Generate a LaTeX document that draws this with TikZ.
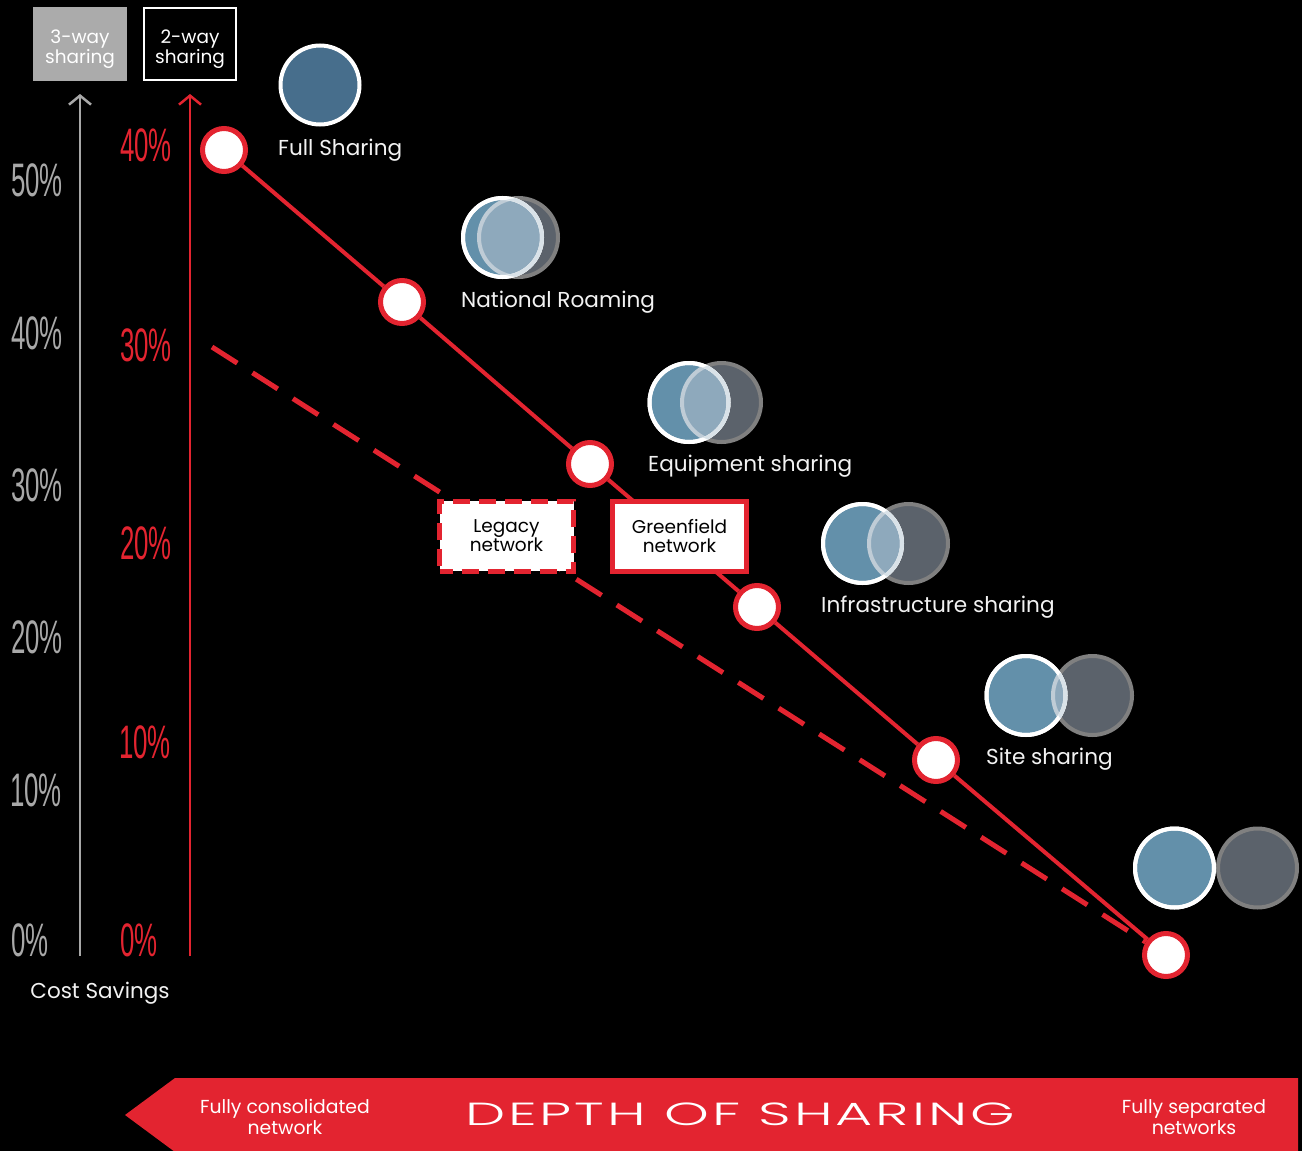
\documentclass[tikz,border=0pt]{standalone}
\usepackage{fontspec}
\setmainfont{Poppins}
\newfontfamily\condfont[FakeStretch=0.55]{Liberation Sans}
\newfontfamily\widefont[FakeStretch=1.78,LetterSpace=9]{Poppins Light}
\usetikzlibrary{arrows.meta}

\definecolor{brand}{HTML}{E32430}
\definecolor{axisgray}{HTML}{A8A8A8}
\definecolor{boxgray}{HTML}{ABABAB}
\definecolor{opblue}{HTML}{6390AA}
\definecolor{fullblue}{HTML}{476E8C}
\definecolor{opgray}{HTML}{5B626B}
\definecolor{ringgray}{HTML}{808080}
\definecolor{overlap}{HTML}{8EA9BC}
\definecolor{overlapring}{HTML}{BFCCD6}
\definecolor{overlapwhite}{HTML}{D9E2E8}
\definecolor{labelwhite}{HTML}{F2F2F2}

\pgfdeclarelayer{bg}
\pgfdeclarelayer{lines}
\pgfsetlayers{bg,lines,main}

\tikzset{
  stagedot/.style={circle, draw=brand, line width=5pt, fill=white, minimum size=43pt, inner sep=0pt},
  trendline/.style={draw=brand, line width=4pt},
  legacyline/.style={draw=brand, line width=5pt, dash pattern=on 30pt off 18pt},
  netbox/.style={draw=brand, line width=5pt, fill=white, minimum width=134pt, minimum height=70pt,
                 inner sep=0pt, align=center, text=black, font=\fontsize{18.5}{19}\selectfont},
  pctgray/.style={anchor=west, inner sep=0pt, text=axisgray, font=\condfont\fontsize{47}{47}\selectfont},
  pctred/.style={anchor=west, inner sep=0pt, text=brand, font=\condfont\fontsize{47}{47}\selectfont},
  stagelabel/.style={anchor=base west, inner sep=0pt, text=labelwhite, font=\fontsize{21.6}{21.6}\selectfont},
  opdisc/.style={circle, fill=opblue, draw=white, line width=4pt, minimum size=79pt, inner sep=0pt},
  peerdisc/.style={circle, fill=opgray, draw=ringgray, line width=4pt, minimum size=79pt, inner sep=0pt},
  axisline/.style={line width=2.5pt, -{Straight Barb[length=9pt,width=22pt,line width=2.5pt]}},
  sharebox/.style={minimum width=94pt, minimum height=74pt, inner sep=0pt},
  sharetext/.style={inner sep=0pt, align=center, font=\fontsize{18.5}{18}\selectfont},
  bannertext/.style={text=white, align=center, inner sep=0pt, font=\fontsize{18.8}{21}\selectfont}
}

% pair of operator discs: own network (blue) and partner network (gray)
\newcommand{\netpair}[4]{%
  \node[peerdisc] (#3b) at (#2) {};
  \node[opdisc] (#3a) at (#1) {};
  \begin{scope}
    \clip (#3a.center) circle (39.5pt);
    \fill[overlap] (#3b.center) circle (39.5pt);
    \draw[overlapring, line width=4pt] (#3b.center) circle (39.5pt);
  \end{scope}
  \draw[white, line width=4pt] (#3a.center) circle (39.5pt);
  \begin{scope}
    \clip (#3b.center) circle (39.5pt);
    \draw[overlapwhite, line width=4pt] (#3a.center) circle (39.5pt);
  \end{scope}
  #4
}

\begin{document}
\begin{tikzpicture}[x=1pt, y=-1pt]
\begin{pgfonlayer}{bg}
  \fill[black] (0,0) rectangle (1302,1151);
\end{pgfonlayer}
\useasboundingbox (0,0) rectangle (1302,1151);

% sharing scope boxes
\node[sharebox, fill=boxgray] (three) at (80,44) {};
\node[sharetext, text=white] (threet) at (80,49) {3-way\\sharing};
\node[sharebox, draw=white, line width=2.5pt, minimum width=92pt, minimum height=72pt] (two) at (190,44) {};
\node[sharetext, text=white] (twot) at (190,49) {2-way\\sharing};

% savings axes
\coordinate (gbase) at (80,956);
\coordinate (gtop) at (80,94);
\coordinate (rbase) at (190,956);
\coordinate (rtop) at (190,94);
\draw[axisline, axisgray] (gbase) -- (gtop);
\draw[axisline, brand] (rbase) -- (rtop);

\node[pctgray] (g50) at (11,180) {50\%};
\node[pctgray] (g40) at (11,333) {40\%};
\node[pctgray] (g30) at (11,485) {30\%};
\node[pctgray] (g20) at (11,637) {20\%};
\node[pctgray] (g10) at (10,790) {10\%};
\node[pctgray] (g0)  at (11,940) {0\%};

\node[pctred] (r40) at (120,145) {40\%};
\node[pctred] (r30) at (120,345) {30\%};
\node[pctred] (r20) at (120,543) {20\%};
\node[pctred] (r10) at (119,742) {10\%};
\node[pctred] (r0)  at (120,940) {0\%};

\node[text=labelwhite, inner sep=0pt, font=\fontsize{21.5}{21.5}\selectfont, anchor=base] (cost) at (100,998) {Cost Savings};

% sharing stages on the greenfield curve
\node[stagedot] (p1) at (224,150) {};
\node[stagedot] (p2) at (402,302) {};
\node[stagedot] (p3) at (590,464) {};
\node[stagedot] (p4) at (757,607) {};
\node[stagedot] (p5) at (936,760) {};
\node[stagedot] (p6) at (1166,955) {};

\coordinate (l0) at (212,347);

\begin{pgfonlayer}{lines}
  \draw[legacyline] (l0) -- (p6);
  \draw[trendline] (p1) -- (p2) -- (p3) -- (p4) -- (p5) -- (p6);
\end{pgfonlayer}

\node[netbox, dash pattern=on 17pt off 9pt, dash phase=4pt] (legacy) at (506.5,536) {Legacy\\network};
\node[netbox] (green) at (679.5,536) {Greenfield\\network};

% operator discs
\node[circle, fill=fullblue, draw=white, line width=4pt, minimum size=79pt, inner sep=0pt] (fs) at (320,85) {};
\node[stagelabel] (fsl) at (278,155) {Full Sharing};

\netpair{502.5,237.5}{518.5,237.5}{nr}{\node[stagelabel] (nrl) at (461,307) {National Roaming};}
\netpair{689,402.5}{721.5,402.5}{eq}{\node[stagelabel] (eql) at (648,471) {Equipment sharing};}
\netpair{862.5,543.5}{908.5,543.5}{inf}{\node[stagelabel] (infl) at (821,612) {Infrastructure sharing};}
\netpair{1026,695.5}{1092.5,695.5}{site}{\node[stagelabel] (sitel) at (986,764) {Site sharing};}
\netpair{1174.5,868}{1257.5,868}{sep}{}

% depth of sharing banner
\fill[brand] (175,1078) -- (1298,1078) -- (1298,1152) -- (175,1152) -- (125,1115) -- cycle;
\node[bannertext] (left) at (285,1117) {Fully consolidated\\network};
\node[bannertext] (right) at (1194,1117) {Fully separated\\networks};
\node[text=white, inner sep=0pt, anchor=base, font=\widefont\fontsize{32}{32}\selectfont] (depth) at (740,1125) {DEPTH OF SHARING};
\end{tikzpicture}
\end{document}
